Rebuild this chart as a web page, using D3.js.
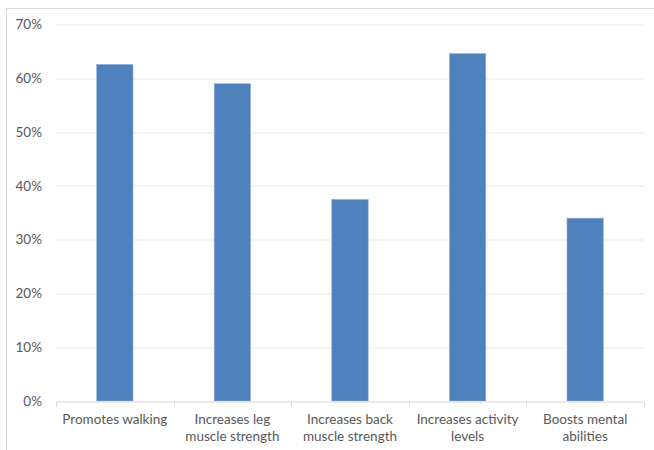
<!DOCTYPE html>
<html>
<head>
<meta charset="utf-8">
<script src="https://cdn.jsdelivr.net/npm/d3@7/dist/d3.min.js"></script>
<style>
  html, body { margin: 0; padding: 0; background: #fff; }
  svg { display: block; }
</style>
</head>
<body>
<div id="chart"></div>
<script>
// Share of respondents reporting each benefit
const categories = [
  ["Promotes walking"],
  ["Increases leg", "muscle strength"],
  ["Increases back", "muscle strength"],
  ["Increases activity", "levels"],
  ["Boosts mental", "abilities"]
];
const values = [0.626, 0.59, 0.375, 0.646, 0.34];
const yTicks = [0, 0.1, 0.2, 0.3, 0.4, 0.5, 0.6, 0.7];

const W = 654, H = 450;
const margin = { top: 24.5, right: 10, bottom: 49, left: 56 };
const plotW = 644 - margin.left;
const plotH = 401 - margin.top;

const svg = d3.select("#chart").append("svg")
  .attr("width", W).attr("height", H);

// chart frame
svg.append("rect")
  .attr("x", 6.5).attr("y", 8.5)
  .attr("width", 660).attr("height", 460)
  .attr("fill", "#fff")
  .attr("stroke", "#d9d9d9").attr("stroke-width", 1);

const g = svg.append("g").attr("transform", `translate(${margin.left},${margin.top})`);

const x = d3.scaleBand()
  .domain(d3.range(categories.length))
  .range([0, plotW])
  .paddingInner(0.69).paddingOuter(0.345);

const xOuter = d3.scaleBand()
  .domain(d3.range(categories.length))
  .range([0, plotW]);

const y = d3.scaleLinear().domain([0, 0.7]).range([plotH, 0]);

// gridlines
g.append("g").selectAll("line")
  .data(yTicks.filter(d => d > 0))
  .join("line")
  .attr("x1", 0).attr("x2", plotW)
  .attr("y1", d => Math.round(y(d)) + 0.5).attr("y2", d => Math.round(y(d)) + 0.5)
  .attr("stroke", "#ebebeb").attr("stroke-width", 1);

// y axis labels
const yAxis = d3.axisLeft(y).tickValues(yTicks).tickFormat(d3.format(".0%")).tickSize(0).tickPadding(14);
const ya = g.append("g").call(yAxis);
ya.select(".domain").remove();
ya.selectAll("text")
  .attr("fill", "#595959")
  .style("font-family", "Lato, 'Open Sans', sans-serif")
  .style("font-size", "13.5px");

// bars
g.append("g").selectAll("rect")
  .data(values)
  .join("rect")
  .attr("x", (d, i) => x(i))
  .attr("y", d => y(d))
  .attr("width", x.bandwidth())
  .attr("height", d => plotH - y(d))
  .attr("fill", "#4f81bd")
  .attr("stroke", "#9db8de").attr("stroke-width", 0.6);

// x axis baseline and category ticks
const xa = g.append("g").attr("transform", `translate(0,${Math.round(plotH) + 0.5})`);
xa.append("line").attr("x1", 0).attr("x2", plotW).attr("stroke", "#d9d9d9");
xa.selectAll("line.tick")
  .data(d3.range(categories.length + 1))
  .join("line").attr("class", "tick")
  .attr("x1", i => Math.round(i * xOuter.step()) + 0.5)
  .attr("x2", i => Math.round(i * xOuter.step()) + 0.5)
  .attr("y1", 0).attr("y2", 5)
  .attr("stroke", "#d9d9d9");

// category labels
const lab = xa.selectAll("text.cat")
  .data(categories)
  .join("text").attr("class", "cat")
  .attr("x", (d, i) => xOuter(i) + xOuter.bandwidth() / 2)
  .attr("y", 22)
  .attr("text-anchor", "middle")
  .attr("fill", "#595959")
  .style("font-family", "Lato, 'Open Sans', sans-serif")
  .style("font-size", "13.5px");
lab.selectAll("tspan")
  .data(d => d)
  .join("tspan")
  .attr("x", function () { return this.parentNode.getAttribute("x"); })
  .attr("dy", (d, i) => i === 0 ? 0 : 17)
  .text(d => d);
</script>
</body>
</html>
